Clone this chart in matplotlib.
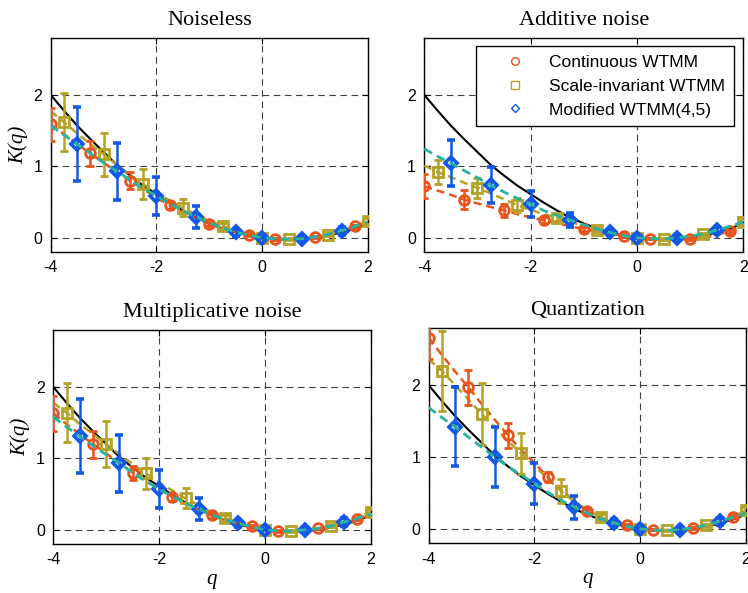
import numpy as np
import matplotlib
matplotlib.use("Agg")
import matplotlib.pyplot as plt
from matplotlib.lines import Line2D

plt.rcParams["font.family"] = "Liberation Sans"
plt.rcParams["axes.unicode_minus"] = False

# q grid of the estimated spectra
q = np.arange(-4, 2.01, 0.25)

# q values that carry a marker + error bar, one set per estimator
q_cont = [-4, -3.25, -2.5, -1.75, -1, -0.25, 0.25, 1, 1.75]
q_scale = [-3.75, -3, -2.25, -1.5, -0.75, 0, 0.5, 1.25, 2]
q_mod = [-3.5, -2.75, -2, -1.25, -0.5, 0, 0.75, 1.5]

# theoretical K(q)
K_theory = [2.0, 1.78, 1.57, 1.38, 1.2, 1.02, 0.87, 0.73, 0.61, 0.49, 0.38, 0.28, 0.2,
            0.13, 0.075, 0.03, 0.0, -0.02, -0.025, -0.02, 0.0, 0.03, 0.075, 0.13, 0.2]

# noiseless
noiseless_cont = [1.59, 1.45, 1.31, 1.18, 1.05, 0.92, 0.80, 0.68, 0.56, 0.455, 0.36, 0.27, 0.19,
                  0.13, 0.08, 0.045, 0.0, -0.018, -0.025, -0.015, 0.01, 0.04, 0.09, 0.16, 0.23]
noiseless_scale = [1.77, 1.62, 1.46, 1.31, 1.17, 1.02, 0.88, 0.75, 0.63, 0.52, 0.42, 0.32, 0.24,
                   0.165, 0.1, 0.05, 0.0, -0.02, -0.02, -0.015, 0.01, 0.045, 0.1, 0.16, 0.23]
noiseless_mod = [1.57, 1.44, 1.31, 1.18, 1.05, 0.93, 0.81, 0.69, 0.585, 0.48, 0.38, 0.29, 0.21,
                 0.14, 0.075, 0.035, 0.0, -0.015, -0.02, -0.014, 0.01, 0.05, 0.097, 0.16, 0.22]
noiseless_cont_err = [0.23, 0.18, 0.12, 0.05, 0.03, 0.02, 0.01, 0.01, 0.02]
noiseless_scale_err = [0.40, 0.30, 0.21, 0.12, 0.04, 0.01, 0.01, 0.02, 0.04]
noiseless_mod_err = [0.52, 0.40, 0.27, 0.15, 0.05, 0.01, 0.03, 0.06]

# additive noise
additive_cont = [0.72, 0.66, 0.60, 0.535, 0.48, 0.43, 0.385, 0.33, 0.285, 0.245, 0.2, 0.16, 0.12,
                 0.085, 0.055, 0.028, 0.0, -0.012, -0.02, -0.022, -0.02, 0.0, 0.04, 0.09, 0.17]
additive_scale = [1.01, 0.92, 0.85, 0.77, 0.70, 0.62, 0.54, 0.455, 0.39, 0.33, 0.28, 0.22, 0.17,
                  0.11, 0.065, 0.03, 0.0, -0.015, -0.02, -0.015, 0.01, 0.046, 0.09, 0.15, 0.22]
additive_mod = [1.245, 1.14, 1.045, 0.94, 0.84, 0.735, 0.64, 0.55, 0.47, 0.38, 0.31, 0.245, 0.18,
                0.12, 0.074, 0.03, 0.0, -0.01, -0.015, 0.0, 0.02, 0.055, 0.107, 0.16, 0.22]
additive_cont_err = [0.17, 0.13, 0.09, 0.04, 0.03, 0.02, 0.01, 0.01, 0.02]
additive_scale_err = [0.17, 0.14, 0.10, 0.05, 0.03, 0.01, 0.01, 0.02, 0.03]
additive_mod_err = [0.32, 0.25, 0.18, 0.10, 0.03, 0.01, 0.02, 0.04]

# multiplicative noise
mult_cont = [1.63, 1.48, 1.34, 1.2, 1.07, 0.93, 0.80, 0.68, 0.57, 0.456, 0.36, 0.275, 0.2,
             0.135, 0.085, 0.046, 0.005, -0.02, -0.025, -0.01, 0.02, 0.05, 0.09, 0.15, 0.22]
mult_scale = [1.78, 1.64, 1.48, 1.34, 1.2, 1.06, 0.92, 0.79, 0.66, 0.55, 0.44, 0.34, 0.245,
              0.163, 0.1, 0.045, 0.0, -0.02, -0.02, -0.01, 0.015, 0.056, 0.11, 0.175, 0.255]
mult_mod = [1.58, 1.44, 1.31, 1.18, 1.05, 0.93, 0.80, 0.68, 0.57, 0.47, 0.37, 0.29, 0.21,
            0.14, 0.09, 0.04, 0.0, -0.015, -0.02, 0.0, 0.02, 0.05, 0.11, 0.16, 0.22]
mult_cont_err = [0.24, 0.19, 0.10, 0.05, 0.03, 0.02, 0.01, 0.01, 0.02]
mult_scale_err = [0.41, 0.32, 0.22, 0.14, 0.04, 0.01, 0.01, 0.02, 0.04]
mult_mod_err = [0.52, 0.40, 0.27, 0.15, 0.05, 0.01, 0.03, 0.06]

# quantization
quant_cont = [2.66, 2.42, 2.19, 1.97, 1.74, 1.52, 1.3, 1.1, 0.92, 0.72, 0.55, 0.39, 0.25,
              0.16, 0.09, 0.05, 0.0, -0.01, -0.015, -0.01, 0.01, 0.04, 0.09, 0.167, 0.24]
quant_scale = [2.36, 2.2, 2.0, 1.8, 1.6, 1.41, 1.22, 1.05, 0.88, 0.7, 0.53, 0.38, 0.26,
               0.167, 0.09, 0.04, 0.0, -0.015, -0.02, -0.01, 0.015, 0.05, 0.1, 0.17, 0.26]
quant_mod = [1.69, 1.55, 1.42, 1.28, 1.14, 1.0, 0.87, 0.75, 0.63, 0.51, 0.4, 0.305, 0.22,
             0.14, 0.083, 0.035, 0.0, -0.015, -0.02, -0.01, 0.015, 0.05, 0.107, 0.16, 0.22]
quant_cont_err = [0.30, 0.24, 0.17, 0.07, 0.03, 0.02, 0.01, 0.01, 0.02]
quant_scale_err = [0.56, 0.43, 0.28, 0.17, 0.04, 0.01, 0.01, 0.02, 0.04]
quant_mod_err = [0.55, 0.42, 0.29, 0.16, 0.05, 0.01, 0.03, 0.05]

titles = ["Noiseless", "Additive noise", "Multiplicative noise", "Quantization"]

c_orange = "#e8541c"
c_olive = "#b4a227"
c_blue = "#1258e6"
c_teal = "#26b3a0"

grid_style = (0, (6, 4))
dash = (3.2, 2.0)


def marks(ax, vals, err, qm, col, mk, ms=7, mew=2.0):
    m = np.isin(q, qm)
    ax.errorbar(q[m], np.asarray(vals)[m], yerr=err, fmt=mk, color=col, mfc="none", mec=col,
                ms=ms, mew=mew, elinewidth=1.8, capsize=2.6, capthick=1.6, zorder=4)


def panel(ax, title, cont, scale, mod, cont_err, scale_err, mod_err, left, bottom):
    ax.plot(q, K_theory, color="k", lw=1.5, zorder=2)
    ax.plot(q, cont, color=c_orange, lw=1.8, dashes=dash, zorder=3)
    ax.plot(q, scale, color=c_olive, lw=1.8, dashes=dash, zorder=3)
    marks(ax, cont, cont_err, q_cont, c_orange, "o")
    marks(ax, scale, scale_err, q_scale, c_olive, "s")
    ax.plot(q, mod, color=c_teal, lw=2.0, dashes=dash, zorder=5)
    marks(ax, mod, mod_err, q_mod, c_blue, "D", ms=6.2, mew=2.6)

    ax.set_xlim(-4, 2)
    ax.set_ylim(-0.2, 2.8)
    ax.set_xticks([-4, -2, 0, 2])
    ax.set_yticks([0, 1, 2])
    ax.grid(True, color="0.25", lw=0.8, linestyle=grid_style)
    ax.tick_params(direction="in", top=True, right=True, length=4, labelsize=11.5, pad=6)
    for s in ax.spines.values():
        s.set_linewidth(1.0)
    ax.set_title(title, family="Liberation Serif", fontsize=16, pad=9)
    if left:
        ax.set_ylabel("K(q)", family="Liberation Serif", style="italic", fontsize=15, labelpad=4)
    if bottom:
        ax.set_xlabel("q", family="Liberation Serif", style="italic", fontsize=15, labelpad=2)


fig = plt.figure(figsize=(7.48, 5.93), dpi=100)
ax1 = fig.add_axes([0.0678, 0.575, 0.4242, 0.3614])
ax2 = fig.add_axes([0.5672, 0.575, 0.4265, 0.3614])
ax3 = fig.add_axes([0.0713, 0.0826, 0.4243, 0.361])
ax4 = fig.add_axes([0.5731, 0.0838, 0.4242, 0.3636])

panel(ax1, titles[0], noiseless_cont, noiseless_scale, noiseless_mod,
      noiseless_cont_err, noiseless_scale_err, noiseless_mod_err, True, False)
panel(ax2, titles[1], additive_cont, additive_scale, additive_mod,
      additive_cont_err, additive_scale_err, additive_mod_err, False, False)
panel(ax3, titles[2], mult_cont, mult_scale, mult_mod,
      mult_cont_err, mult_scale_err, mult_mod_err, True, True)
panel(ax4, titles[3], quant_cont, quant_scale, quant_mod,
      quant_cont_err, quant_scale_err, quant_mod_err, False, True)

handles = [Line2D([], [], ls="none", marker="o", mfc="none", mec=c_orange, ms=5.5, mew=1.0),
           Line2D([], [], ls="none", marker="s", mfc="none", mec=c_olive, ms=5.5, mew=1.0),
           Line2D([], [], ls="none", marker="D", mfc="none", mec=c_blue, ms=4.5, mew=1.0)]
labels = ["Continuous WTMM", "Scale-invariant WTMM", "Modified WTMM(4,5)"]
leg = ax2.legend(handles, labels, loc="upper right", bbox_to_anchor=(0.971, 0.961),
                 fontsize=12.5, handlelength=3.4, handletextpad=0.3, borderpad=0.5,
                 labelspacing=0.5, borderaxespad=0, fancybox=False, framealpha=1)
leg.get_frame().set_edgecolor("k")
leg.get_frame().set_linewidth(1.0)
leg.set_zorder(10)

plt.savefig("out.png", dpi=100)
